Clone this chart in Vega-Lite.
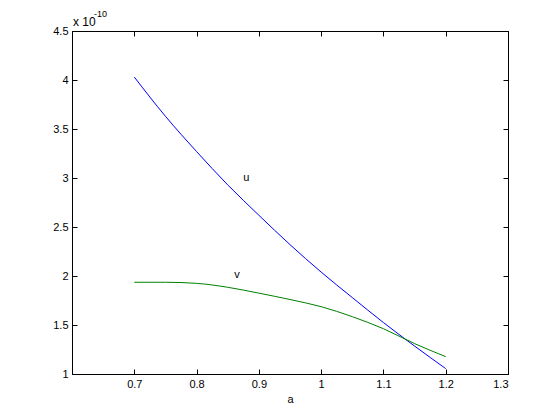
{
  "$schema": "https://vega.github.io/schema/vega-lite/v6.json",
  "width": 436,
  "height": 343,
  "autosize": {"type": "none"},
  "padding": {"left": 72, "top": 31, "right": 52, "bottom": 46},
  "background": "white",
  "config": {
    "view": {"stroke": "black", "strokeWidth": 1},
    "axis": {
      "grid": false,
      "domainColor": "black",
      "tickColor": "black",
      "labelColor": "black",
      "titleColor": "black",
      "labelFont": "Liberation Sans",
      "titleFont": "Liberation Sans",
      "labelFontSize": 11,
      "titleFontSize": 11,
      "titleFontWeight": "normal",
      "tickSize": -5,
      "labelPadding": 9
    }
  },
  "datasets": {
    "curves": [
      {"a": 0.7, "value": 4.03, "series": "u"},
      {"a": 0.75, "value": 3.63, "series": "u"},
      {"a": 0.8, "value": 3.27, "series": "u"},
      {"a": 0.85, "value": 2.93, "series": "u"},
      {"a": 0.9, "value": 2.62, "series": "u"},
      {"a": 0.95, "value": 2.32, "series": "u"},
      {"a": 1.0, "value": 2.04, "series": "u"},
      {"a": 1.05, "value": 1.78, "series": "u"},
      {"a": 1.1, "value": 1.525, "series": "u"},
      {"a": 1.15, "value": 1.285, "series": "u"},
      {"a": 1.2, "value": 1.055, "series": "u"},
      {"a": 0.7, "value": 1.936, "series": "v"},
      {"a": 0.75, "value": 1.936, "series": "v"},
      {"a": 0.8, "value": 1.925, "series": "v"},
      {"a": 0.85, "value": 1.885, "series": "v"},
      {"a": 0.9, "value": 1.825, "series": "v"},
      {"a": 0.95, "value": 1.76, "series": "v"},
      {"a": 1.0, "value": 1.687, "series": "v"},
      {"a": 1.05, "value": 1.585, "series": "v"},
      {"a": 1.1, "value": 1.462, "series": "v"},
      {"a": 1.15, "value": 1.31, "series": "v"},
      {"a": 1.2, "value": 1.177, "series": "v"}
    ],
    "labels": [
      {"a": 0.88, "value": 3.0, "text": "u"},
      {"a": 0.865, "value": 2.01, "text": "v"}
    ],
    "exponent": [
      {"a": 0.6, "value": 4.5}
    ]
  },
  "resolve": {"axis": {"x": "independent", "y": "independent"}},
  "layer": [
    {
      "data": {"name": "curves"},
      "mark": {"type": "line", "strokeWidth": 1, "interpolate": "monotone"},
      "encoding": {
        "x": {
          "field": "a", "type": "quantitative",
          "scale": {"domain": [0.6, 1.3], "nice": false, "zero": false},
          "axis": {"title": "a", "values": [0.7, 0.8, 0.9, 1.0, 1.1, 1.2, 1.3], "labelExpr": "datum.value", "titlePadding": 4}
        },
        "y": {
          "field": "value", "type": "quantitative",
          "scale": {"domain": [1, 4.5], "nice": false, "zero": false},
          "axis": {"title": null, "values": [1, 1.5, 2, 2.5, 3, 3.5, 4, 4.5], "labelExpr": "datum.value"}
        },
        "color": {"field": "series", "type": "nominal", "scale": {"domain": ["u", "v"], "range": ["#0000ff", "#008000"]}, "legend": null}
      }
    },
    {
      "data": {"name": "curves"},
      "mark": {"type": "line", "opacity": 0},
      "encoding": {
        "x": {"field": "a", "type": "quantitative", "axis": {"orient": "top", "title": null, "labels": false, "values": [0.7, 0.8, 0.9, 1.0, 1.1, 1.2, 1.3]}},
        "y": {"field": "value", "type": "quantitative", "axis": {"orient": "right", "title": null, "labels": false, "values": [1, 1.5, 2, 2.5, 3, 3.5, 4, 4.5]}}
      }
    },
    {
      "data": {"name": "labels"},
      "mark": {"type": "text", "font": "Liberation Sans", "fontSize": 11, "color": "black", "align": "center", "baseline": "middle"},
      "encoding": {
        "x": {"field": "a", "type": "quantitative", "axis": null},
        "y": {"field": "value", "type": "quantitative", "axis": null},
        "text": {"field": "text"}
      }
    },
    {
      "data": {"name": "exponent"},
      "mark": {"type": "text", "font": "Liberation Sans", "fontSize": 12, "color": "black", "align": "left", "baseline": "alphabetic", "dx": 1, "dy": -5, "text": "x 10"},
      "encoding": {
        "x": {"field": "a", "type": "quantitative", "axis": null},
        "y": {"field": "value", "type": "quantitative", "axis": null}
      }
    },
    {
      "data": {"name": "exponent"},
      "mark": {"type": "text", "font": "Liberation Sans", "fontSize": 9, "color": "black", "align": "left", "baseline": "alphabetic", "dx": 22, "dy": -14, "text": "-10"},
      "encoding": {
        "x": {"field": "a", "type": "quantitative", "axis": null},
        "y": {"field": "value", "type": "quantitative", "axis": null}
      }
    }
  ]
}
